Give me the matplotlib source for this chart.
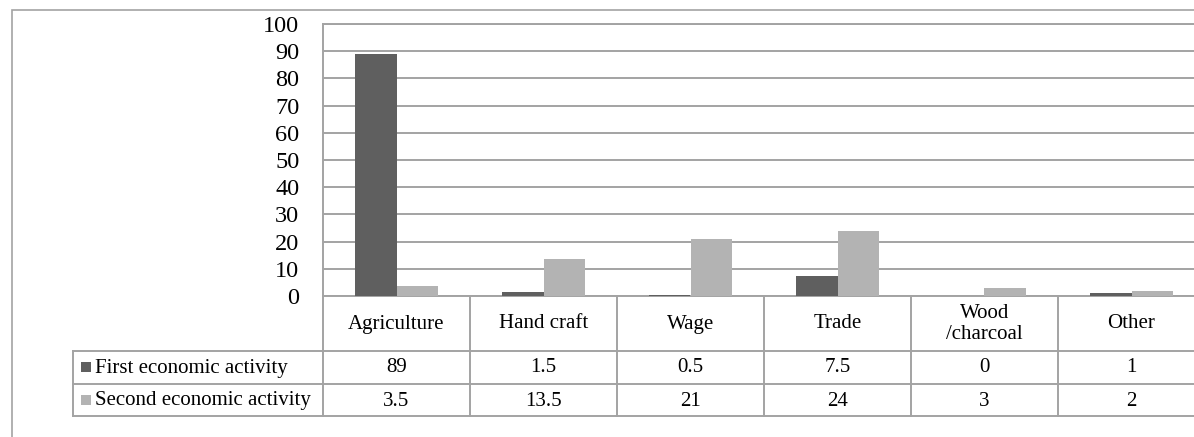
import numpy as np
import matplotlib as mpl
mpl.use('Agg')
import matplotlib.pyplot as plt
from matplotlib.lines import Line2D
from matplotlib.patches import Rectangle
import matplotlib.transforms as mtransforms

# data
categories = ['Agriculture', 'Hand craft', 'Wage', 'Trade', 'Wood\n/charcoal', 'Other']
series_names = ['First economic activity', 'Second economic activity']
first_activity = [89, 1.5, 0.5, 7.5, 0, 1]
second_activity = [3.5, 13.5, 21, 24, 3, 2]
table_first = ['89', '1.5', '0.5', '7.5', '0', '1']
table_second = ['3.5', '13.5', '21', '24', '3', '2']
yticks = list(range(0, 101, 10))

W, H = 1194, 437
dark = '#5f5f5f'
light = '#b3b3b3'
gray = '#a3a3a3'

plt.rcParams['font.family'] = ['Liberation Serif', 'DejaVu Serif']

fig = plt.figure(figsize=(W / 100, H / 100), dpi=100)


def fy(ypix):
    # pixel from top -> figure fraction
    return 1 - ypix / H


def fx(xpix):
    return xpix / W


# outer chart frame (runs off the right / bottom edge)
fig.patches.append(Rectangle((fx(12), fy(600)), 2.0, fy(10) - fy(600), transform=fig.transFigure,
                             fill=False, edgecolor=gray, lw=1.2))

left, top, zero_y = 323, 24, 296
col_w = 147
ax = fig.add_axes([fx(left), fy(zero_y), col_w * len(categories) / W, (zero_y - top) / H])

x = np.arange(len(categories))
bw = 0.28
ax.bar(x - bw / 2, first_activity, bw, color=dark, zorder=3)
ax.bar(x + bw / 2, second_activity, bw, color=light, zorder=3)

ax.set_xlim(-0.5, len(categories) - 0.5)
ax.set_ylim(0, 100)
ax.set_yticks(yticks)
ax.set_xticks([])
ax.tick_params(axis='y', length=0, pad=17, labelsize=17.5)
ax.yaxis.grid(True, color=gray, lw=1.4, zorder=0)
for s in ['left', 'top', 'bottom', 'right']:
    ax.spines[s].set_color(gray)
    ax.spines[s].set_linewidth(1.4)

# data table under the plot
bt = mtransforms.blended_transform_factory(ax.transData, fig.transFigure)
row_lines = [351, 384, 416]
for yl in row_lines:
    fig.add_artist(Line2D([fx(73), fx(1300)], [fy(yl), fy(yl)], transform=fig.transFigure,
                          color=gray, lw=1.4))
fig.add_artist(Line2D([fx(73), fx(73)], [fy(351), fy(416)], transform=fig.transFigure,
                      color=gray, lw=1.4))
for b in np.arange(len(categories) + 1) - 0.5:
    fig.add_artist(Line2D([b, b], [fy(zero_y), fy(416)], transform=bt, color=gray, lw=1.4))

for i, cat in enumerate(categories):
    fig.text(i, fy(324), cat, transform=bt, ha='center', va='center', fontsize=15,
             linespacing=1.1)
    fig.text(i, fy(368), table_first[i], transform=bt, ha='center', va='center', fontsize=15)
    fig.text(i, fy(401), table_second[i], transform=bt, ha='center', va='center', fontsize=15)

for name, color, yc in [(series_names[0], dark, 367), (series_names[1], light, 400)]:
    fig.patches.append(Rectangle((fx(81), fy(yc + 5)), fx(10), 10 / H, transform=fig.transFigure,
                                 facecolor=color, edgecolor='none'))
    fig.text(fx(95), fy(yc + 1), name, ha='left', va='center', fontsize=15)

fig.savefig('out.png', dpi=100)
